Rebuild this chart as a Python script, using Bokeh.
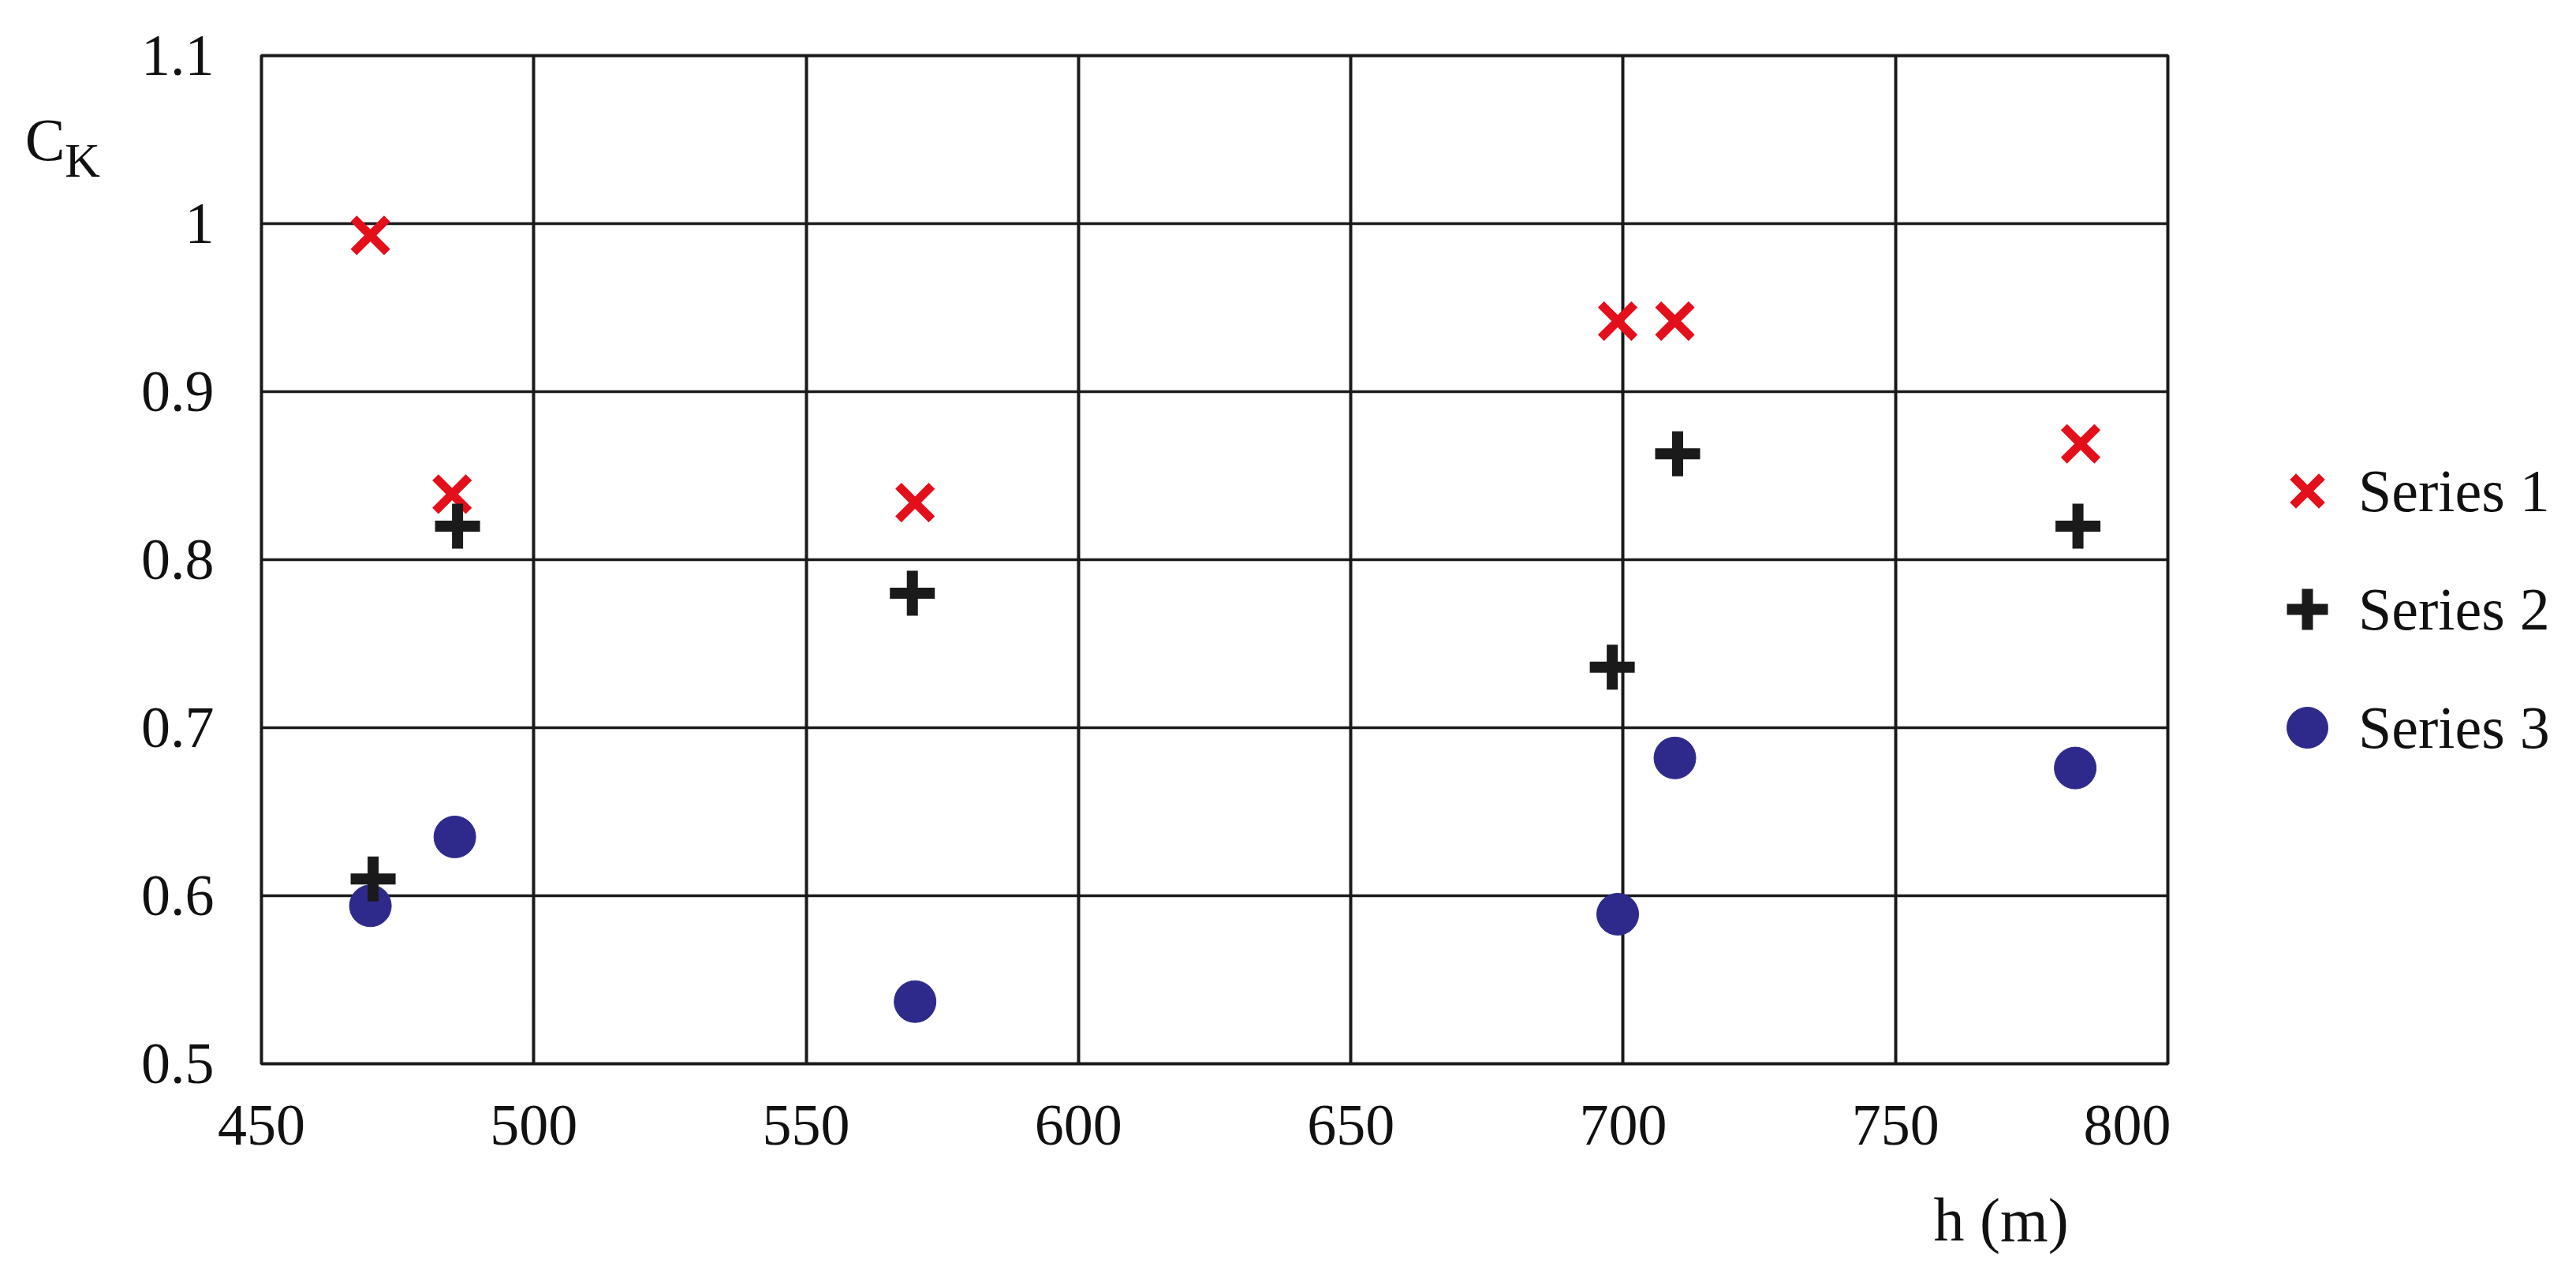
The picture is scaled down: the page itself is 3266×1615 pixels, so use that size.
from bokeh.plotting import figure
from bokeh.layouts import row
from bokeh.models import Range1d, FixedTicker, Legend, LegendItem, Label
from bokeh.embed import file_html
from bokeh.resources import INLINE

# ---- data ----
h_series1 = [470, 485, 570, 699, 709.5, 784]
ck_series1 = [0.993, 0.839, 0.834, 0.942, 0.942, 0.869]
h_series2 = [470.5, 486, 569.5, 698, 710, 783.5]
ck_series2 = [0.61, 0.82, 0.78, 0.736, 0.863, 0.82]
h_series3 = [470, 485.5, 570, 699, 709.5, 783]
ck_series3 = [0.594, 0.635, 0.537, 0.589, 0.682, 0.676]
series_names = ["Series 1", "Series 2", "Series 3"]
x_ticks = [450, 500, 550, 600, 650, 700, 750, 800]
y_ticks = [0.5, 0.6, 0.7, 0.8, 0.9, 1.0, 1.1]
y_tick_labels = ["0.5", "0.6", "0.7", "0.8", "0.9", "1", "1.1"]
x_title = "h (m)"
y_title_main = "C"
y_title_sub = "K"

RED = "#E3101C"
BLACK = "#1a1a1a"
BLUE = "#2E2A8C"
FONT = "Liberation Serif"
TXT = "#111111"

STYLES = [dict(marker="x", size=60, line_color=RED, line_width=11),
          dict(marker="cross", size=57, line_color=BLACK, line_width=14),
          dict(marker="circle", size=53, fill_color=BLUE, line_color=BLUE, line_width=1)]

H = 1607
W1 = 2752          # main chart (frame 331..2748)
W2 = 3250 - W1     # legend column

p = figure(width=W1, height=H, title=None, toolbar_location=None, output_backend="svg",
           x_range=Range1d(450, 800), y_range=Range1d(0.5, 1.1),
           min_border_left=331, min_border_right=W1 - 2748, min_border_top=70,
           min_border_bottom=H - 1348)
p.background_fill_color = "white"
p.border_fill_color = "white"
p.outline_line_color = BLACK
p.outline_line_width = 4

p.xaxis.ticker = FixedTicker(ticks=x_ticks)
p.yaxis.ticker = FixedTicker(ticks=y_ticks)
p.yaxis.major_label_overrides = {v: s for v, s in zip(y_ticks, y_tick_labels)}

for ax in (p.xaxis, p.yaxis):
    ax.axis_line_color = None
    ax.major_tick_line_color = None
    ax.minor_tick_line_color = None
    ax.major_tick_in = 0
    ax.major_tick_out = 0
    ax.major_label_text_font = FONT
    ax.major_label_text_font_size = "74px"
    ax.major_label_text_color = TXT
p.yaxis.major_label_standoff = 60
p.xaxis.major_label_standoff = 53

p.xgrid.grid_line_color = BLACK
p.xgrid.grid_line_width = 4
p.ygrid.grid_line_color = BLACK
p.ygrid.grid_line_width = 3.5

# drawing order: dots, then x, then plus on top
p.scatter(h_series3, ck_series3, **STYLES[2])
p.scatter(h_series1, ck_series1, **STYLES[0])
p.scatter(h_series2, ck_series2, **STYLES[1])

p.add_layout(Label(x=406.6, y=1.050, text=y_title_main, text_font=FONT,
                   text_font_size="76px", text_color=TXT,
                   text_align="left", text_baseline="alphabetic"), "left")
p.add_layout(Label(x=413.9, y=1.038, text=y_title_sub, text_font=FONT,
                   text_font_size="62px", text_color=TXT,
                   text_align="left", text_baseline="alphabetic"), "left")
p.add_layout(Label(x=757, y=0.407, text=x_title, text_font=FONT,
                   text_font_size="78px", text_color=TXT,
                   text_align="left", text_baseline="alphabetic"), "below")

# ---- legend column: same series, shown only through the legend ----
q = figure(width=W2, height=H, title=None, toolbar_location=None, output_backend="svg",
           x_range=Range1d(0, 1), y_range=Range1d(0, 1),
           x_axis_type=None, y_axis_type=None, min_border=0)
q.outline_line_color = None
q.background_fill_color = "white"
q.border_fill_color = "white"
g1 = q.scatter(h_series1, ck_series1, **STYLES[0])
g2 = q.scatter(h_series2, ck_series2, **STYLES[1])
g3 = q.scatter(h_series3, ck_series3, **STYLES[2])

legend = Legend(items=[LegendItem(label=series_names[0], renderers=[g1]),
                       LegendItem(label=series_names[1], renderers=[g2]),
                       LegendItem(label=series_names[2], renderers=[g3])],
                location=(2860 - W1, 1348 - 987), orientation="vertical",
                glyph_width=130, glyph_height=130, spacing=20, label_standoff=-8,
                padding=0, margin=0, border_line_color=None, background_fill_alpha=0,
                label_text_font=FONT, label_text_font_size="76px", label_text_color=TXT)
q.add_layout(legend)

open("out.html", "w").write(file_html(row(p, q), INLINE))
